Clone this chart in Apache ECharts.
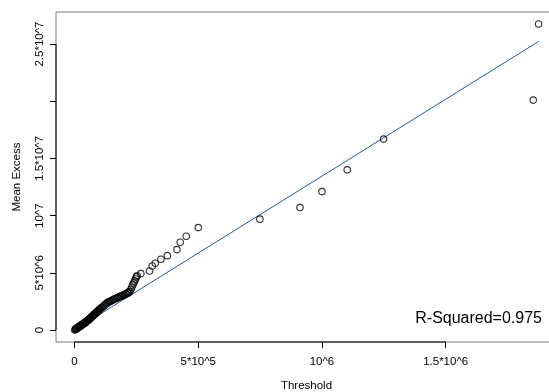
<!DOCTYPE html>
<html>
<head>
<meta charset="utf-8">
<script src="https://cdn.jsdelivr.net/npm/echarts@6/dist/echarts.min.js"></script>
<style>
    html, body { margin: 0; padding: 0; background: #fff; }
    #chart { width: 549px; height: 392px; }
</style>
</head>
<body>
<div id="chart"></div>
<script>
// tick positions and labels
var xTicks = [0, 500000, 1000000, 1500000];
var xTickLabels = ['0', '5*10^5', '10^6', '1.5*10^6'];
var yTicks = [0, 5000000, 10000000, 15000000, 20000000, 25000000];
var yTickLabels = ['0', '5*10^6', '10^7', '1.5*10^7', '', '2.5*10^7'];

// mean excess points (threshold, mean excess)
var thresholds = [
    1000, 3000, 7000, 11000, 15000, 19000, 23000, 27000, 31000, 35000,
    39000, 43000, 47000, 51000, 55000, 59000, 63000, 67500, 72000, 75500,
    80000, 84000, 88000, 92000, 96000, 100000, 104000, 112000, 120000, 128000,
    136000, 144000, 152000, 160000, 169000, 177000, 185000, 193000, 201000, 209000,
    217000, 223000, 227000, 231000, 235000, 239000, 243000, 247000, 249000, 253000,
    268000, 303000, 314000, 326000, 349000, 375000, 414000, 427000, 451500, 500000,
    749000, 911000, 1000000, 1102000, 1249000, 1854000, 1875500,
    // dense part near the origin
    5000, 9000, 13000, 17000, 21000, 25000, 29000, 33000, 37000, 41000,
    45000, 49000, 53000, 57000, 61000, 65000, 70000, 74000, 78000, 82000,
    86000, 90000, 94000, 98000, 102000, 108000, 116000, 124000, 132000, 140000,
    148000, 156000, 164000, 173000, 181000, 189000, 197000, 205000, 213000, 220000
];
var meanExcess = [
    0, 44000, 90000, 131000, 220000, 262000, 310000, 394000, 440000, 525000,
    570000, 612000, 700000, 788000, 830000, 919000, 1010000, 1094000, 1180000, 1269000,
    1360000, 1400000, 1490000, 1575000, 1660000, 1750000, 1840000, 1970000, 2140000, 2280000,
    2410000, 2490000, 2580000, 2670000, 2760000, 2840000, 2930000, 2980000, 3060000, 3150000,
    3240000, 3370000, 3540000, 3720000, 3940000, 4110000, 4290000, 4460000, 4640000, 4730000,
    4930000, 5160000, 5600000, 5830000, 6180000, 6500000, 7030000, 7670000, 8200000, 8950000,
    9690000, 10700000, 12100000, 14000000, 16690000, 20100000, 26750000,
    120000, 170000, 230000, 290000, 350000, 400000, 470000, 530000, 590000, 650000,
    710000, 780000, 850000, 920000, 1000000, 1080000, 1180000, 1260000, 1350000, 1420000,
    1500000, 1580000, 1660000, 1740000, 1830000, 1940000, 2080000, 2240000, 2380000, 2480000,
    2560000, 2660000, 2750000, 2830000, 2910000, 2990000, 3060000, 3140000, 3230000, 3330000
];

// fitted line end points
var fitX = [0, 1876000];
var fitY = [0, 25230000];
var rSquared = 0.975;

var xMin = -75000, xMax = 1950000;
var yMin = -1050000, yMax = 27800000;

var points = [];
for (var i = 0; i < thresholds.length; i++) {
    points.push([thresholds[i], meanExcess[i]]);
}
var fitLine = [];
for (var j = 0; j < fitX.length; j++) {
    fitLine.push([fitX[j], fitY[j]]);
}

var font = 'Liberation Sans, Arial, Helvetica, sans-serif';
var myChart = echarts.init(document.getElementById('chart'));

var option = {
    animation: false,
    grid: {
        left: 56,
        top: 12,
        width: 501,
        height: 330,
        outerBoundsMode: 'none',
        containLabel: false,
        show: true,
        borderColor: '#7a7a7a',
        borderWidth: 1,
        backgroundColor: 'transparent'
    },
    xAxis: {
        type: 'value',
        min: xMin,
        max: xMax,
        name: 'Threshold',
        nameLocation: 'middle',
        nameGap: 38,
        nameTextStyle: { fontFamily: font, fontSize: 11.5, color: '#000' },
        splitLine: { show: false },
        axisLine: { show: false, onZero: false },
        axisTick: {
            show: true,
            length: 6,
            customValues: xTicks,
            lineStyle: { color: '#000', width: 1 }
        },
        axisLabel: {
            customValues: xTicks,
            margin: 14,
            fontFamily: font,
            fontSize: 11.5,
            color: '#000',
            formatter: function (v) {
                var k = xTicks.indexOf(v);
                return k < 0 ? '' : xTickLabels[k];
            }
        }
    },
    yAxis: {
        type: 'value',
        min: yMin,
        max: yMax,
        name: 'Mean Excess',
        nameLocation: 'middle',
        nameGap: 33,
        nameRotate: 90,
        nameTextStyle: { fontFamily: font, fontSize: 11.5, color: '#000' },
        splitLine: { show: false },
        axisLine: { show: false, onZero: false },
        axisTick: {
            show: true,
            length: 6,
            customValues: yTicks,
            lineStyle: { color: '#000', width: 1 }
        },
        axisLabel: {
            customValues: yTicks,
            rotate: 90,
            margin: 10,
            fontFamily: font,
            fontSize: 11.5,
            color: '#000',
            formatter: function (v) {
                var k = yTicks.indexOf(v);
                return k < 0 ? '' : yTickLabels[k];
            }
        }
    },
    graphic: [{
        type: 'text',
        right: 7,
        top: 311,
        style: {
            text: 'R-Squared=' + rSquared,
            font: '16px ' + font,
            fill: '#000'
        }
    }],
    series: [
        {
            // black axis segments between first and last tick
            type: 'line',
            silent: true,
            clip: false,
            symbol: 'none',
            lineStyle: { color: '#000', width: 1 },
            data: [[xTicks[0], yMin], [xTicks[xTicks.length - 1], yMin]],
            z: 5
        },
        {
            type: 'line',
            silent: true,
            clip: false,
            symbol: 'none',
            lineStyle: { color: '#000', width: 1 },
            data: [[xMin, yTicks[0]], [xMin, yTicks[yTicks.length - 1]]],
            z: 5
        },
        {
            name: 'fit',
            type: 'line',
            symbol: 'none',
            lineStyle: { color: '#1f5c9c', width: 1 },
            data: fitLine,
            z: 2
        },
        {
            name: 'mean excess',
            type: 'scatter',
            symbol: 'circle',
            symbolSize: 6.5,
            itemStyle: {
                color: 'rgba(0,0,0,0)',
                borderColor: '#000',
                borderWidth: 1.1
            },
            data: points,
            z: 3
        }
    ]
};

myChart.setOption(option, true);
</script>
</body>
</html>
